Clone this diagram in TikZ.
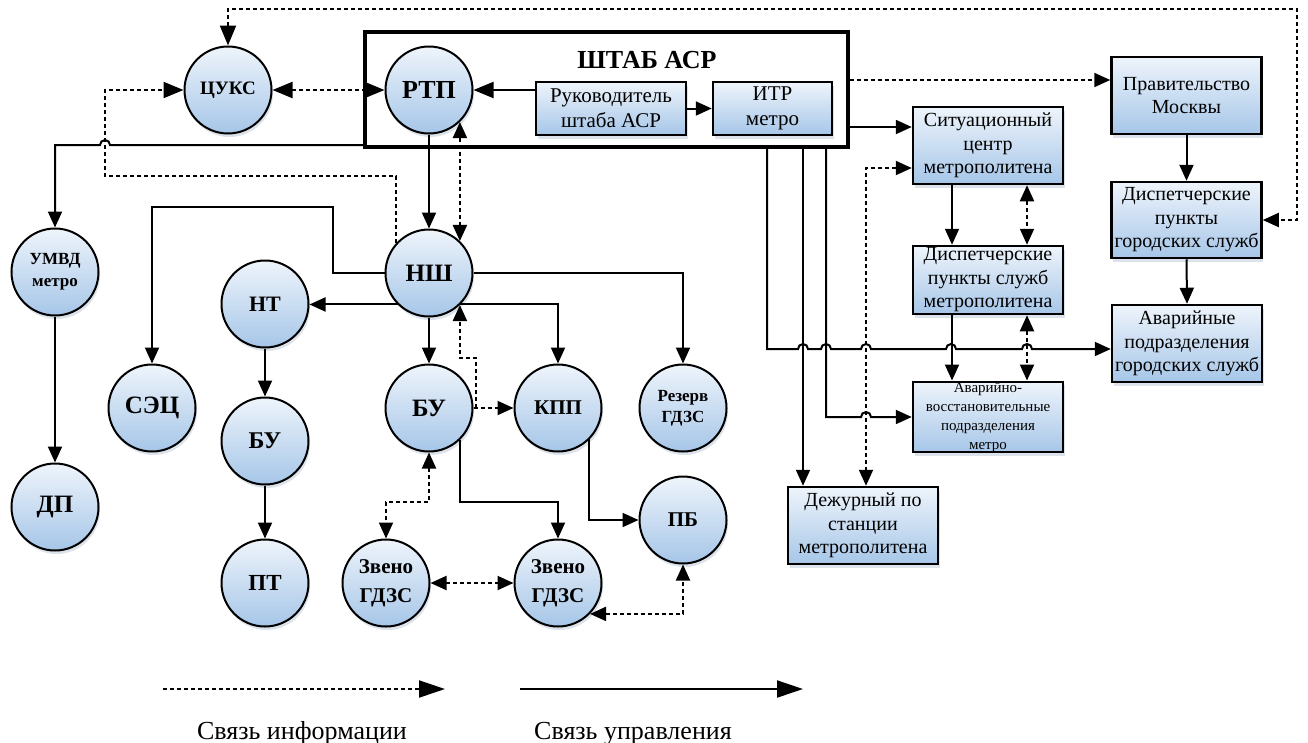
\documentclass[tikz,border=0pt]{standalone}
\usepackage{fontspec}
\setmainfont{Liberation Serif}
\usetikzlibrary{arrows.meta,shadows,calc}
\definecolor{cTop}{HTML}{EEF4FB}
\definecolor{cBot}{HTML}{A6C6E8}
\definecolor{shd}{HTML}{C6D0DE}
\tikzset{
  Tsm/.tip={Triangle[length=16pt,width=14pt]},
  Tbg/.tip={Triangle[length=20pt,width=16pt]},
  Tlg/.tip={Triangle[length=26pt,width=17pt]},
  circ/.style={circle, draw=black, line width=2pt, minimum size=87pt, inner sep=0pt,
    top color=cTop, bottom color=cBot, align=center,
    drop shadow={shadow xshift=1.5pt, shadow yshift=-3.5pt, fill=shd, opacity=0.6}},
  rbox/.style={rectangle, draw=black, line width=2.5pt, top color=cTop, bottom color=cBot,
    align=center, inner sep=0pt, minimum width=150pt, minimum height=77pt,
    drop shadow={shadow xshift=1.5pt, shadow yshift=-3.5pt, fill=shd, opacity=0.6}},
  ctrl/.style={line width=2pt},
  info/.style={line width=2pt, dash pattern=on 4pt off 3pt},
}
\begin{document}
\begin{tikzpicture}[x=1pt,y=-1pt]
\useasboundingbox (0,0) rectangle (1308,742);

% ШТАБ container
\node[draw, line width=3.2pt, minimum width=483pt, minimum height=115pt, inner sep=0pt] (shtab) at (606.5,89.5) {};
\node[font=\fontsize{26}{30}\selectfont\bfseries, anchor=base] (shtabt) at (647,68) {ШТАБ АСР};

% circles
\node[circ, font=\fontsize{19}{22}\selectfont\bfseries] (cuks) at (228,90) {ЦУКС};
\node[circ, font=\fontsize{26}{28}\selectfont\bfseries] (rtp) at (429,90) {РТП};
\node[circ, font=\fontsize{25}{28}\selectfont\bfseries] (ns) at (429,273) {НШ};
\node[circ, font=\fontsize{22}{26}\selectfont\bfseries] (nt) at (265,304) {НТ};
\node[circ, font=\fontsize{24}{28}\selectfont\bfseries] (bu1) at (265,441) {БУ};
\node[circ, font=\fontsize{23}{27}\selectfont\bfseries] (pt) at (265,583) {ПТ};
\node[circ, font=\fontsize{25}{28}\selectfont\bfseries] (sec) at (152,408) {СЭЦ};
\node[circ, font=\fontsize{17}{22}\selectfont\bfseries] (umvd) at (55,272) {УМВД\\метро};
\node[circ, font=\fontsize{25}{28}\selectfont\bfseries] (dp) at (55,507) {ДП};
\node[circ, font=\fontsize{25}{28}\selectfont\bfseries] (bu2) at (429,408) {БУ};
\node[circ, font=\fontsize{21}{25}\selectfont\bfseries] (kpp) at (558,408) {КПП};
\node[circ, font=\fontsize{17}{21}\selectfont\bfseries] (rez) at (683,408) {Резерв\\ГДЗС};
\node[circ, font=\fontsize{21}{25}\selectfont\bfseries] (pb) at (683,520) {ПБ};
\node[circ, font=\fontsize{21}{29}\selectfont\bfseries] (z1) at (386,583) {Звено\\ГДЗС};
\node[circ, font=\fontsize{21}{29}\selectfont\bfseries] (z2) at (558,583) {Звено\\ГДЗС};

% boxes
\node[rbox, minimum height=53pt, font=\fontsize{21}{25}\selectfont] (ruk) at (611,108.5) {Руководитель\\штаба АСР};
\node[rbox, minimum width=119pt, minimum height=53pt, font=\fontsize{21}{25}\selectfont] (itr) at (772.5,108.5) {ИТР\\метро};
\node[rbox, font=\fontsize{20}{23.5}\selectfont] (sit) at (988,145.5) {Ситуационный\\центр\\метрополитена};
\node[rbox, font=\fontsize{20}{23.5}\selectfont] (prav) at (1186.5,95.5) {Правительство\\Москвы};
\node[rbox, minimum height=76pt, font=\fontsize{20}{23.5}\selectfont] (dgor) at (1186.5,220) {Диспетчерские\\пункты\\городских служб};
\node[rbox, minimum height=68pt, font=\fontsize{20}{23.5}\selectfont] (dm) at (988,280) {Диспетчерские\\пункты служб\\метрополитена};
\node[rbox, font=\fontsize{20}{23.5}\selectfont] (agor) at (1187,343.5) {Аварийные\\подразделения\\городских служб};
\node[rbox, minimum height=70pt, font=\fontsize{15}{19}\selectfont] (av) at (988,417) {Аварийно-\\восстановительные\\подразделения\\метро};
\node[rbox, font=\fontsize{20}{23.5}\selectfont] (dez) at (863,525.5) {Дежурный по\\станции\\метрополитена};

% left / centre connectors
\draw[info,Tbg-Tbg] (cuks.east) -- (rtp.west);
\draw[info,Tbg-Tsm] (cuks.north) -- (cuks.north |- 0,9) -- (1297,9) -- (1297,220) -- (dgor.east);
\draw[info,-Tbg] (ns.137) -- (ns.137 |- 0,176) -- (105,176) -- (105,90) -- (cuks.west);
\draw[ctrl,-Tsm] (shtab.west |- 0,145) -- (110,145) arc[start angle=0,end angle=180,radius=5pt] -- (55,145) -- (umvd.north);
\draw[ctrl,-Tsm] (umvd.south) -- (dp.north);
\draw[ctrl,-Tsm] (rtp.south) -- (ns.north);
\draw[info,Tsm-Tsm] (rtp.-46) -- (ns.46);
\draw[ctrl,-Tbg] (ruk.west |- rtp.east) -- (rtp.east);
\draw[ctrl,-Tsm] (ruk.east) -- (itr.west);
\draw[ctrl,-Tsm] (ns.west) -| (333,207) -| (sec.north);
\draw[ctrl,-Tsm] (ns.225) -- (ns.225 -| nt.east);
\draw[ctrl,-Tsm] (ns.-45) -| (kpp.north);
\draw[ctrl,-Tsm] (ns.east) -| (rez.north);
\draw[ctrl,-Tsm] (ns.south) -- (bu2.north);
\coordinate (jn) at (476,408);
\draw[info,-Tsm] (bu2.east) -- (kpp.west);
\draw[info,-Tsm] (jn) -- (476,358) -| (ns.-46);
\draw[ctrl,-Tsm] (bu2.-46) -- (bu2.-46 |- 0,502) -| (z2.north);
\draw[info,Tsm-Tsm] (bu2.south) -- (bu2.south |- 0,502) -| (z1.north);
\draw[info,Tsm-Tsm] (z1.east) -- (z2.west);
\draw[ctrl,-Tsm] (kpp.-45) |- (pb.west);
\draw[info,Tsm-Tsm] (z2.-44) -| (pb.south);
\draw[ctrl,-Tsm] (nt.south) -- (bu1.north);
\draw[ctrl,-Tsm] (bu1.south) -- (pt.north);

% right connectors
\draw[ctrl,-Tsm] (shtab.east |- 0,127) -- (sit.west |- 0,127);
\draw[info,-Tsm] (shtab.east |- 0,80) -- (prav.west |- 0,80);
\draw[ctrl,-Tsm] (prav.south) -- (dgor.north);
\draw[ctrl,-Tsm] (dgor.south) -- (agor.north);
\draw[ctrl,-Tsm] ([xshift=-36pt]sit.south) -- ([xshift=-36pt]dm.north);
\draw[info,Tsm-Tsm] ([xshift=39pt]sit.south) -- ([xshift=39pt]dm.north);
\draw[ctrl,-Tsm] ([xshift=-36pt]dm.south) -- ([xshift=-36pt]av.north);
\draw[info,Tsm-Tsm] ([xshift=39pt]dm.south) -- ([xshift=39pt]av.north);
\draw[ctrl,-Tsm] (shtab.south -| 767,0) -- (767,349) -- (798,349)
  arc[start angle=180,end angle=0,radius=5pt] -- (821,349)
  arc[start angle=180,end angle=0,radius=5pt] -- (861,349)
  arc[start angle=180,end angle=0,radius=5pt] -- (946,349)
  arc[start angle=180,end angle=0,radius=5pt] -- (1022,349)
  arc[start angle=180,end angle=0,radius=5pt] -- (agor.west |- 0,349);
\draw[ctrl,-Tsm] (shtab.south -| 803,0) -- ([xshift=-60pt]dez.north);
\draw[ctrl,-Tsm] (shtab.south -| 826,0) -- (826,417) -- (861,417)
  arc[start angle=180,end angle=0,radius=5pt] -- (av.west);
\draw[info,Tsm-Tsm] (sit.west |- 0,168) -- (866,168) -- ([xshift=3pt]dez.north);

% legend
\coordinate (l1a) at (163,689);
\coordinate (l1b) at (445,689);
\coordinate (l2a) at (520,689);
\coordinate (l2b) at (803,689);
\draw[info,-Tlg] (l1a) -- (l1b);
\draw[ctrl,-Tlg] (l2a) -- (l2b);
\node[anchor=base, font=\fontsize{26}{28}\selectfont] (lt1) at (302,739) {Связь информации};
\node[anchor=base, font=\fontsize{26}{28}\selectfont] (lt2) at (633,739) {Связь управления};
\end{tikzpicture}
\end{document}
